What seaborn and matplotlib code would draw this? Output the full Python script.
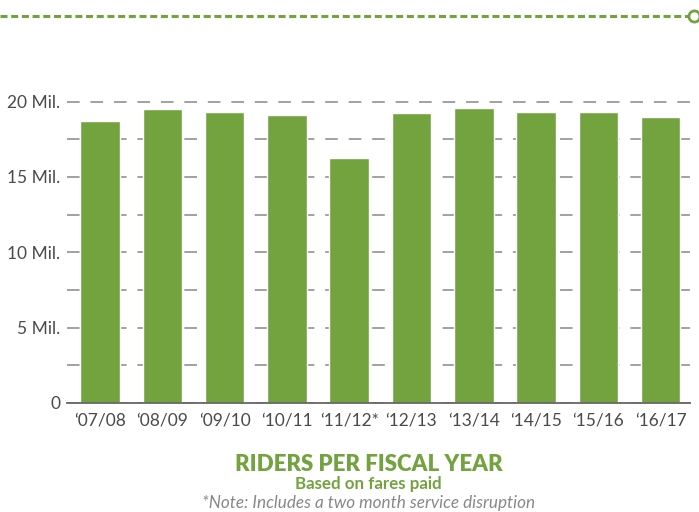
import seaborn as sns
import matplotlib.pyplot as plt
from matplotlib.lines import Line2D

# riders per fiscal year, millions
years = ["\u201807/08", "\u201808/09", "\u201809/10", "\u201810/11", "\u201811/12*",
         "\u201812/13", "\u201813/14", "\u201814/15", "\u201815/16", "\u201816/17"]
riders = [18.71, 19.50, 19.33, 19.11, 16.28, 19.26, 19.60, 19.33, 19.33, 19.00]
major_ticks = [0, 5, 10, 15, 20]
minor_ticks = [2.5, 7.5, 12.5, 17.5]
tick_labels = ["0", "5 Mil.", "10 Mil.", "15 Mil.", "20 Mil."]

GREEN = "#72a33f"
TEXT = "#4a4a4a"

sns.set_style("white")
plt.rcParams["font.family"] = ["Lato", "DejaVu Sans"]

fig = plt.figure(figsize=(6.99, 5.12), dpi=100)
ax = fig.add_axes([0.0959, 0.2129, 0.8911, 0.6477])

sns.barplot(x=years, y=riders, color=GREEN, saturation=1, width=0.635, ax=ax)

ax.set_xlim(-0.53, 9.47)
ax.set_ylim(0, 22)
ax.set_yticks(major_ticks)
ax.set_yticklabels(tick_labels)
ax.set_yticks(minor_ticks, minor=True)
ax.set_axisbelow(True)
ax.grid(axis="y", which="both", color="#9a9a9a", linewidth=1.3, linestyle=(0, (7, 6)))
ax.tick_params(axis="y", which="both", length=0, pad=5, labelsize=12.5, labelcolor=TEXT)
ax.tick_params(axis="x", length=0, pad=7, labelsize=12.5, labelcolor=TEXT)

for side in ["top", "right", "left"]:
    ax.spines[side].set_visible(False)
ax.spines["bottom"].set_color("#666666")
ax.spines["bottom"].set_linewidth(1.3)
ax.set_xlabel("")
ax.set_ylabel("")

# decorative dashed line at top with hollow circle end
fig.add_artist(Line2D([0, 0.984], [0.969, 0.969], transform=fig.transFigure,
                      color=GREEN, linewidth=2.2, linestyle=(0, (2.3, 1.2))))
fig.add_artist(Line2D([0.993], [0.969], transform=fig.transFigure, marker="o",
                      markersize=8, markerfacecolor="white", markeredgecolor=GREEN,
                      markeredgewidth=2))

fig.text(0.527, 0.093, "RIDERS PER FISCAL YEAR", ha="center", va="center",
         fontsize=16, fontweight="heavy", color=GREEN)
fig.text(0.527, 0.054, "Based on fares paid", ha="center", va="center",
         fontsize=12.2, fontweight="bold", color=GREEN)
fig.text(0.527, 0.017, "*Note: Includes a two month service disruption", ha="center",
         va="center", fontsize=12.3, style="italic", color="#888888")

plt.savefig("out.png", dpi=100)
